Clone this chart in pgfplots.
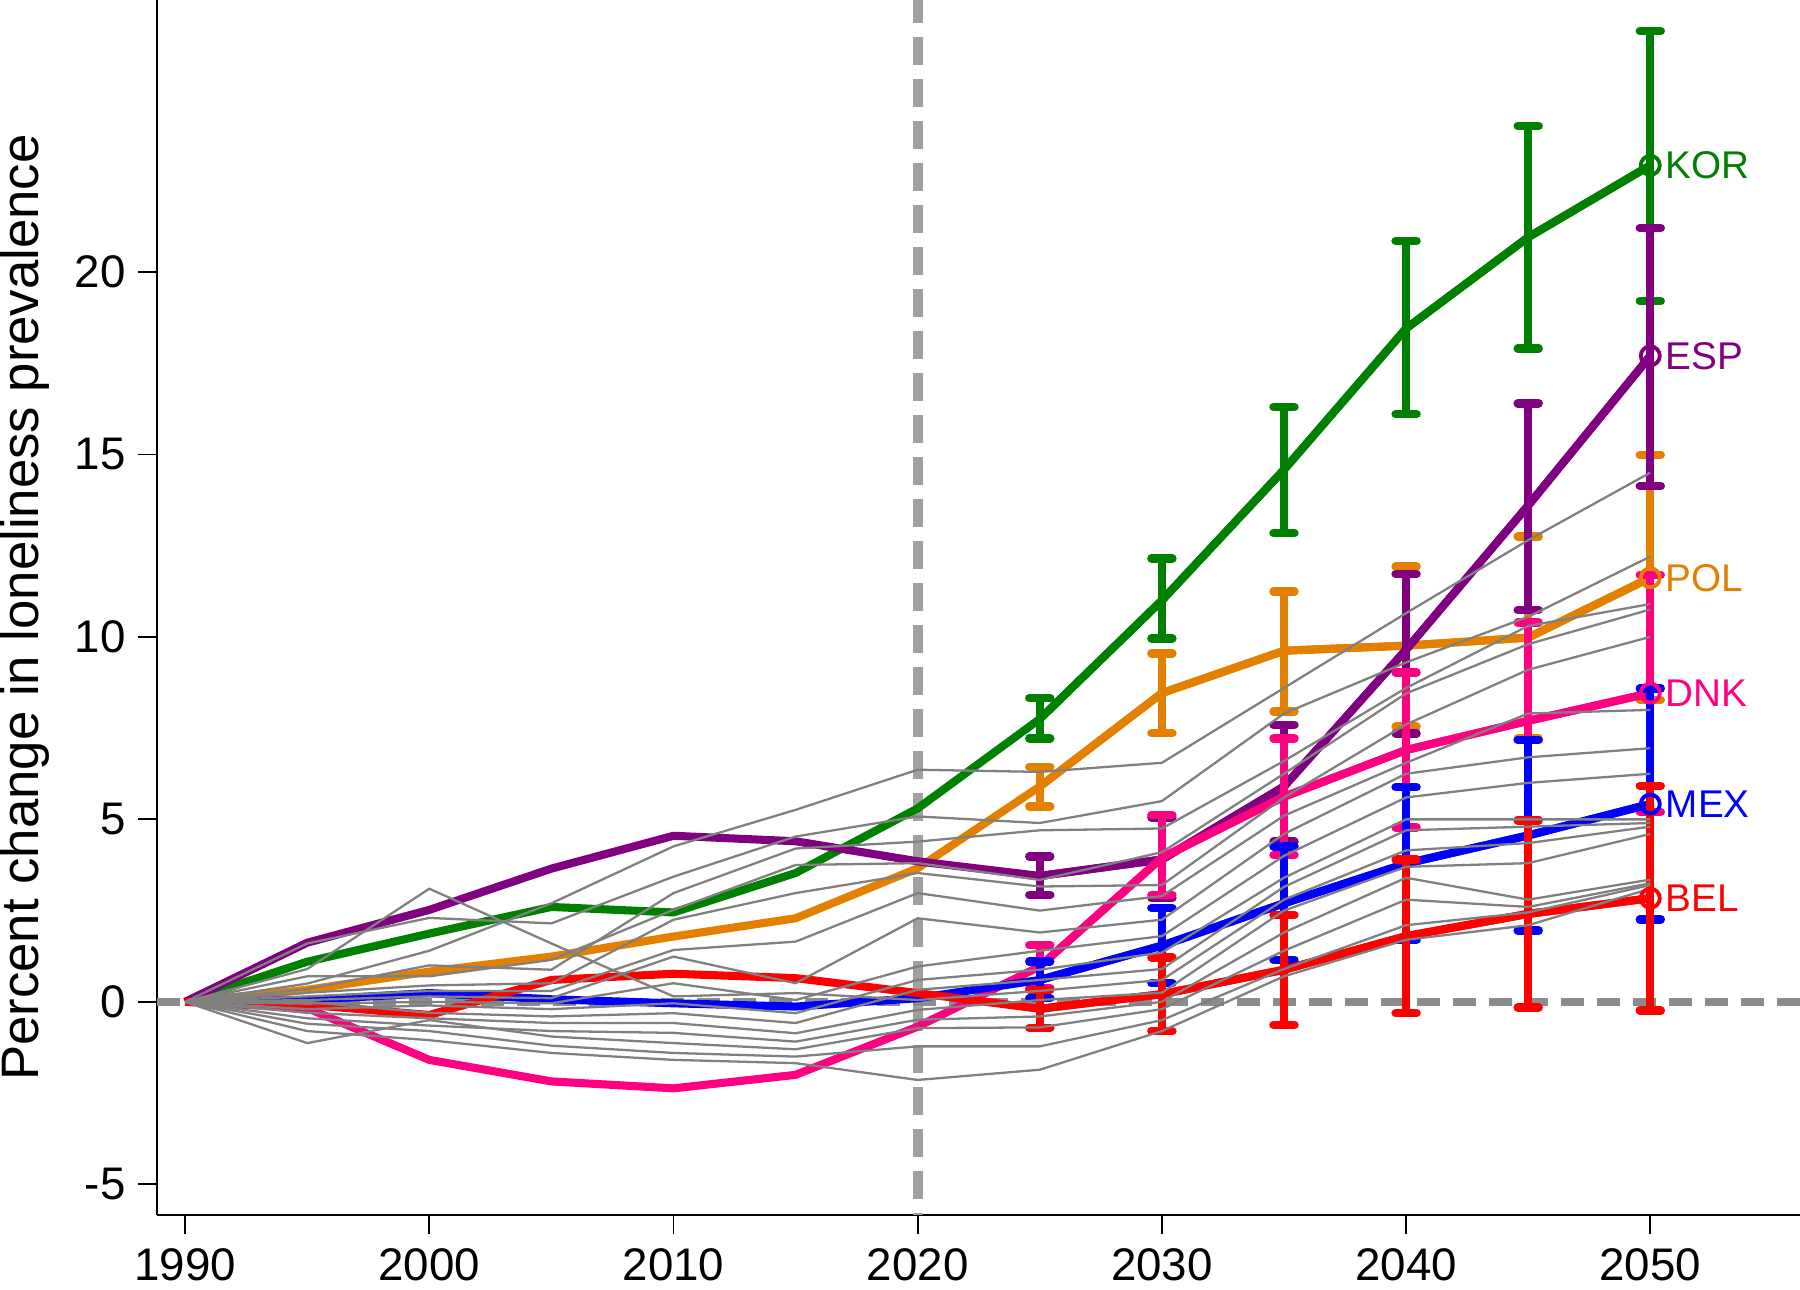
\documentclass[border=0pt]{standalone}
\usepackage{pgfplots}
\pgfplotsset{compat=1.18}
\usepackage{fontspec}
\setmainfont{Liberation Sans}
\definecolor{kor}{RGB}{0,128,0}
\definecolor{esp}{RGB}{128,0,128}
\definecolor{pol}{RGB}{227,128,0}
\definecolor{dnk}{RGB}{255,0,128}
\definecolor{mex}{RGB}{0,0,255}
\definecolor{bel}{RGB}{255,0,0}
\definecolor{gline}{RGB}{128,128,128}
\definecolor{vdash}{RGB}{160,160,160}
\definecolor{hdash}{RGB}{140,140,140}
\pgfplotsset{
  col/.style={line width=2.3pt, line join=round},
  gr/.style={gline, line width=0.65pt, line join=round},
  eb/.style={error bars/.cd, y dir=both, y explicit, error mark=|,
     error bar style={line width=2.3pt},
     error mark options={line width=2.4pt, mark size=1.05mm, line cap=round}},
  lab/.style={only marks, mark=o, mark size=0.95mm, mark options={line width=1.1pt},
     nodes near coords, point meta=explicit symbolic,
     nodes near coords style={anchor=west, font=\fontsize{11}{13}\selectfont, xshift=0.2mm}},
}
\begin{document}
\begin{tikzpicture}
\begin{axis}[
  at={(0,0)}, anchor=south west,
  width=164.3mm, height=121.5mm, scale only axis,
  xmin=1988.85, xmax=2056.13, ymin=-5.84, ymax=27.45,
  axis x line*=bottom, axis y line*=left,
  axis line style={black, line width=0.6pt},
  xtick={1990,2000,2010,2020,2030,2040,2050},
  ytick={-5,0,5,10,15,20},
  tick align=outside, major tick length=1.9mm,
  tick style={black, line width=0.5pt},
  /pgf/number format/assume math mode=true,
  x tick label style={/pgf/number format/1000 sep=, inner sep=0pt, yshift=-1.4mm},
  ticklabel style={font=\fontsize{13}{15}\selectfont},
  ylabel={Percent change in loneliness prevalence},
  ylabel style={font=\fontsize{15}{18}\selectfont, at={(axis description cs:-0.0803,0.5)}, anchor=center},
  clip=true,
]
% reference lines
\addplot[vdash, line width=2.8pt, dash pattern=on 2.8mm off 1.4mm] coordinates {(2020,27.6) (2020,-6)};
\addplot[hdash, line width=2.3pt, dash pattern=on 2.3mm off 1.3mm] coordinates {(1988.85,0) (2057,0)};

% KOR
\addplot[kor, col] coordinates {(1990,0) (1995,1.1) (2000,1.87) (2005,2.6) (2010,2.45) (2015,3.53) (2020,5.3) (2025,7.75) (2030,11.0) (2035,14.58) (2040,18.45) (2045,20.95) (2050,22.92)};
\addplot[kor, col, eb] coordinates {(2025,7.75) += (0,0.57) -= (0,0.53) (2030,11.0) += (0,1.15) -= (0,1.04) (2035,14.58) += (0,1.72) -= (0,1.74) (2040,18.45) += (0,2.4) -= (0,2.35) (2045,20.95) += (0,3.05) -= (0,3.05) (2050,22.92) += (0,3.68) -= (0,3.72)};
% POL
\addplot[pol, col] coordinates {(1990,0) (1995,0.33) (2000,0.83) (2005,1.24) (2010,1.79) (2015,2.29) (2020,3.66) (2025,5.9) (2030,8.46) (2035,9.62) (2040,9.76) (2045,9.98) (2050,11.62)};
\addplot[pol, col, eb] coordinates {(2025,5.9) += (0,0.53) -= (0,0.55) (2030,8.46) += (0,1.09) -= (0,1.1) (2035,9.62) += (0,1.62) -= (0,1.67) (2040,9.76) += (0,2.17) -= (0,2.22) (2045,9.98) += (0,2.77) -= (0,2.76) (2050,11.62) += (0,3.37) -= (0,3.35)};
% ESP
\addplot[esp, col] coordinates {(1990,0) (1995,1.62) (2000,2.52) (2005,3.65) (2010,4.55) (2015,4.4) (2020,3.85) (2025,3.45) (2030,3.9) (2035,5.9) (2040,9.65) (2045,13.6) (2050,17.7)};
\addplot[esp, col, eb] coordinates {(2025,3.45) += (0,0.53) -= (0,0.52) (2030,3.9) += (0,1.15) -= (0,1.06) (2035,5.9) += (0,1.69) -= (0,1.51) (2040,9.65) += (0,2.07) -= (0,2.3) (2045,13.6) += (0,2.8) -= (0,2.86) (2050,17.7) += (0,3.5) -= (0,3.57)};
% DNK
\addplot[dnk, col] coordinates {(1990,0) (1995,-0.17) (2000,-1.59) (2005,-2.18) (2010,-2.37) (2015,-2.0) (2020,-0.68) (2025,0.97) (2030,3.95) (2035,5.62) (2040,6.9) (2045,7.7) (2050,8.46)};
\addplot[dnk, col, eb] coordinates {(2025,0.97) += (0,0.59) -= (0,0.59) (2030,3.95) += (0,1.17) -= (0,1.02) (2035,5.62) += (0,1.6) -= (0,1.59) (2040,6.9) += (0,2.12) -= (0,2.12) (2045,7.7) += (0,2.69) -= (0,2.71) (2050,8.46) += (0,3.24) -= (0,3.26)};
% MEX
\addplot[mex, col] coordinates {(1990,0) (1995,0.05) (2000,0.24) (2005,0.07) (2010,-0.04) (2015,-0.13) (2020,0.1) (2025,0.6) (2030,1.54) (2035,2.7) (2040,3.79) (2045,4.56) (2050,5.42)};
\addplot[mex, col, eb] coordinates {(2025,0.6) += (0,0.5) -= (0,0.5) (2030,1.54) += (0,1.03) -= (0,1.03) (2035,2.7) += (0,1.56) -= (0,1.55) (2040,3.79) += (0,2.09) -= (0,2.09) (2045,4.56) += (0,2.62) -= (0,2.61) (2050,5.42) += (0,3.17) -= (0,3.16)};
% BEL
\addplot[bel, col] coordinates {(1990,0) (1995,-0.08) (2000,-0.36) (2005,0.6) (2010,0.77) (2015,0.65) (2020,0.24) (2025,-0.19) (2030,0.21) (2035,0.88) (2040,1.8) (2045,2.41) (2050,2.84)};
\addplot[bel, col, eb] coordinates {(2025,-0.19) += (0,0.52) -= (0,0.53) (2030,0.21) += (0,1.01) -= (0,1.01) (2035,0.88) += (0,1.5) -= (0,1.51) (2040,1.8) += (0,2.1) -= (0,2.11) (2045,2.41) += (0,2.56) -= (0,2.56) (2050,2.84) += (0,3.08) -= (0,3.08)};

% other countries
\addplot[gr] coordinates {(1990,0) (1995,0.5) (2000,1.4) (2005,2.7) (2010,4.26) (2015,5.26) (2020,6.36) (2025,6.3) (2030,6.55) (2035,8.6) (2040,10.65) (2045,12.65) (2050,14.5)};
\addplot[gr] coordinates {(1990,0) (1995,1.6) (2000,2.3) (2005,2.15) (2010,3.43) (2015,4.53) (2020,5.08) (2025,4.9) (2030,5.5) (2035,7.9) (2040,9.3) (2045,10.55) (2050,12.2)};
\addplot[gr] coordinates {(1990,0) (1995,0.35) (2000,1.0) (2005,0.88) (2010,2.98) (2015,4.2) (2020,4.39) (2025,4.7) (2030,4.75) (2035,6.6) (2040,8.6) (2045,10.3) (2050,10.9)};
\addplot[gr] coordinates {(1990,0) (1995,0.7) (2000,0.7) (2005,1.15) (2010,2.52) (2015,3.75) (2020,3.8) (2025,3.34) (2030,4.1) (2035,6.25) (2040,8.45) (2045,9.8) (2050,10.75)};
\addplot[gr] coordinates {(1990,0) (1995,0.25) (2000,0.45) (2005,0.51) (2010,2.25) (2015,2.98) (2020,3.53) (2025,3.16) (2030,3.2) (2035,5.6) (2040,7.6) (2045,9.1) (2050,10.0)};
\addplot[gr] coordinates {(1990,0) (1995,0.15) (2000,0.3) (2005,0.3) (2010,1.42) (2015,1.65) (2020,2.98) (2025,2.5) (2030,2.9) (2035,5.1) (2040,6.55) (2045,7.9) (2050,8.0)};
\addplot[gr] coordinates {(1990,0) (1995,0.05) (2000,0.15) (2005,0.1) (2010,1.24) (2015,0.51) (2020,2.29) (2025,1.9) (2030,2.25) (2035,4.6) (2040,6.25) (2045,6.7) (2050,6.95)};
\addplot[gr] coordinates {(1990,0) (1995,-0.05) (2000,0.0) (2005,-0.04) (2010,0.51) (2015,0.05) (2020,0.97) (2025,1.4) (2030,1.8) (2035,4.0) (2040,5.6) (2045,6.0) (2050,6.25)};
\addplot[gr] coordinates {(1990,0) (1995,-0.2) (2000,-0.1) (2005,-0.2) (2010,-0.04) (2015,-0.31) (2020,0.6) (2025,0.88) (2030,1.35) (2035,3.4) (2040,5.0) (2045,5.0) (2050,5.0)};
\addplot[gr] coordinates {(1990,0) (1995,0.0) (2000,-0.3) (2005,-0.4) (2010,-0.31) (2015,-0.58) (2020,0.33) (2025,0.6) (2030,0.9) (2035,3.15) (2040,4.7) (2045,4.8) (2050,4.9)};
\addplot[gr] coordinates {(1990,0) (1995,0.9) (2000,3.1) (2005,1.6) (2010,0.15) (2015,0.24) (2020,0.05) (2025,0.3) (2030,0.6) (2035,2.8) (2040,4.15) (2045,4.35) (2050,4.8)};
\addplot[gr] coordinates {(1990,0) (1995,-0.3) (2000,-0.45) (2005,-0.58) (2010,-0.58) (2015,-0.86) (2020,-0.22) (2025,0.05) (2030,0.25) (2035,2.5) (2040,3.7) (2045,3.8) (2050,4.6)};
\addplot[gr] coordinates {(1990,0) (1995,-0.45) (2000,-0.65) (2005,-0.8) (2010,-0.85) (2015,-1.09) (2020,-0.49) (2025,-0.4) (2030,0.0) (2035,1.9) (2040,3.4) (2045,2.8) (2050,3.35)};
\addplot[gr] coordinates {(1990,0) (1995,-1.13) (2000,-0.5) (2005,-0.95) (2010,-1.13) (2015,-1.3) (2020,-0.72) (2025,-0.7) (2030,-0.2) (2035,1.4) (2040,2.8) (2045,2.6) (2050,3.25)};
\addplot[gr] coordinates {(1990,0) (1995,-0.6) (2000,-0.8) (2005,-1.2) (2010,-1.4) (2015,-1.5) (2020,-1.22) (2025,-1.22) (2030,-0.5) (2035,0.9) (2040,2.1) (2045,2.45) (2050,3.2)};
\addplot[gr] coordinates {(1990,0) (1995,-0.8) (2000,-1.05) (2005,-1.4) (2010,-1.59) (2015,-1.68) (2020,-2.14) (2025,-1.86) (2030,-0.8) (2035,0.7) (2040,1.7) (2045,2.1) (2050,3.1)};

% end markers and labels
\addplot[kor, lab, nodes near coords style={text=kor}] coordinates {(2050,22.92) [KOR]};
\addplot[esp, lab, nodes near coords style={text=esp}] coordinates {(2050,17.7) [ESP]};
\addplot[pol, lab, nodes near coords style={text=pol}] coordinates {(2050,11.62) [POL]};
\addplot[dnk, lab, nodes near coords style={text=dnk}] coordinates {(2050,8.46) [DNK]};
\addplot[mex, lab, nodes near coords style={text=mex}] coordinates {(2050,5.42) [MEX]};
\addplot[bel, lab, nodes near coords style={text=bel}] coordinates {(2050,2.84) [BEL]};
\end{axis}
\pgfresetboundingbox
\path[use as bounding box] (-15.7mm,-7.5mm) rectangle (164.3mm,121.5mm);
\end{tikzpicture}
\end{document}
